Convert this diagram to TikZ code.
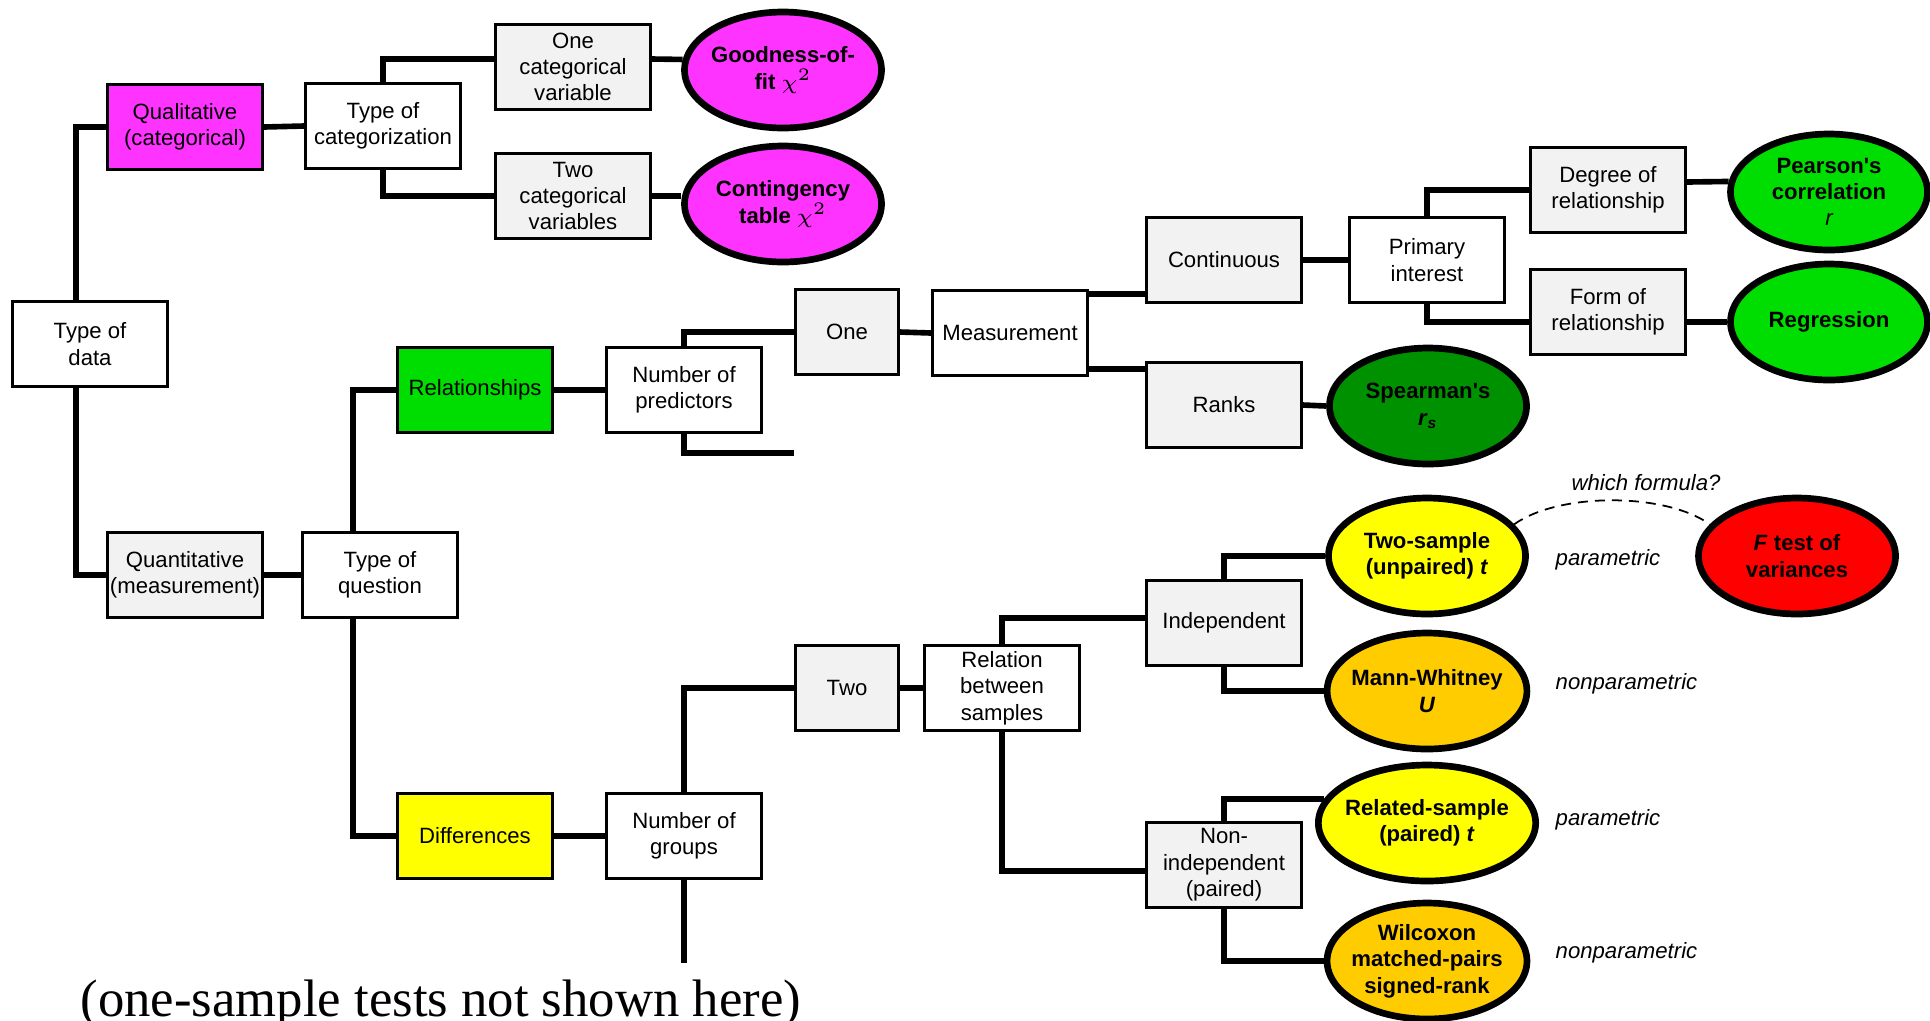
\documentclass[tikz,border=0pt]{standalone}
\usepackage{fontspec}
\setmainfont{Liberation Sans}
\newfontfamily\notefont{Liberation Serif}
\usepackage{tikz}
\usetikzlibrary{shapes.geometric}
\definecolor{qualpink}{RGB}{255,51,255}
\definecolor{relgreen}{RGB}{0,221,0}
\definecolor{rankgreen}{RGB}{0,145,0}
\definecolor{parayellow}{RGB}{255,255,0}
\definecolor{nporange}{RGB}{255,204,0}
\definecolor{varred}{RGB}{255,0,0}
\definecolor{boxgrey}{RGB}{242,242,242}
\newcommand{\qfont}{\fontsize{6.3}{7.5}\selectfont}
\newcommand{\chisq}{$\chi^{\scriptscriptstyle 2}$}
\tikzset{
  qbox/.style={draw=black,line width=0.75pt,fill=white,minimum width=15.5mm,minimum height=8.5mm,
    inner xsep=0.2mm,inner ysep=0pt,align=center,font=\qfont},
  gbox/.style={qbox,fill=boxgrey},
  testell/.style={ellipse,draw=black,line width=1.9pt,minimum width=19.7mm,minimum height=11.6mm,
    inner xsep=-0.5mm,inner ysep=0pt,align=center,font=\qfont\bfseries},
  link/.style={line width=1.6pt},
  hint/.style={line width=0.5pt,dash pattern=on 1mm off 0.7mm},
  note/.style={inner sep=0pt,font=\qfont\itshape},
}

\begin{document}
\begin{tikzpicture}[x=0.1mm,y=-0.1mm]
  \path[use as bounding box,fill=white] (0,0) rectangle (1930,1020);
  % qualitative side
  \node[qbox] (tdata) at (90,344) {Type of\\data};
  \node[qbox,fill=qualpink] (qual) at (185,127) {Qualitative\\(categorical)};
  \node[qbox] (tcat) at (383,126) {Type of\\categorization};
  \node[gbox] (onecat) at (573,67) {One\\categorical\\variable};
  \node[gbox] (twocat) at (573,196) {Two\\categorical\\variables};
  \node[testell,fill=qualpink] (gof) at (783,70) {Goodness-of-\\fit \chisq};
  \node[testell,fill=qualpink] (contab) at (783,204) {Contingency\\table \chisq};
  % quantitative side
  \node[gbox] (quant) at (185,575) {Quantitative\\(measurement)};
  \node[qbox] (tques) at (380,575) {Type of\\question};
  \node[qbox,fill=relgreen] (rel) at (475,390) {Relationships};
  \node[qbox] (npred) at (684,390) {Number of\\predictors};
  \node[gbox,minimum width=10.3mm] (one) at (847,332) {One};
  \node[qbox] (meas) at (1010,333) {Measurement};
  \node[gbox] (contin) at (1224,260) {Continuous};
  \node[gbox] (ranks) at (1224,405) {Ranks};
  \node[qbox] (primary) at (1427,260) {Primary\\interest};
  \node[gbox] (degree) at (1608,190) {Degree of\\relationship};
  \node[gbox] (form) at (1608,312) {Form of\\relationship};
  \node[testell,fill=relgreen] (pearson) at (1829,192)
    {Pearson\textquotesingle s\\correlation\\{\mdseries\itshape r}};
  \node[testell,fill=relgreen] (regr) at (1829,322) {Regression};
  \node[testell,fill=rankgreen] (spear) at (1428,406)
    {Spearman\textquotesingle s\\\textit{r}\textsubscript{\textit{s}}};
  \node[qbox,fill=parayellow] (diff) at (475,836) {Differences};
  \node[qbox] (ngroups) at (684,836) {Number of\\groups};
  \node[gbox,minimum width=10.3mm] (two) at (847,688) {Two};
  \node[qbox] (relsamp) at (1002,688) {Relation\\between\\samples};
  \node[gbox] (indep) at (1224,623) {Independent};
  \node[gbox] (nonind) at (1224,865) {Non-\\independent\\(paired)};
  \node[testell,fill=parayellow] (twos) at (1427,556) {Two-sample\\(unpaired) \textit{t}};
  \node[testell,fill=nporange] (mannw) at (1427,691) {Mann-Whitney\\\textit{U}};
  \node[testell,fill=parayellow] (relsam) at (1427,823) {Related-sample\\(paired) \textit{t}};
  \node[testell,fill=nporange] (wilc) at (1427,961) {Wilcoxon\\matched-pairs\\signed-rank};
  \node[testell,fill=varred] (ftest) at (1797,556) {\textit{F} test of\\variances};
  % side notes
  \node[note] (which) at (1646,483) {which formula?};
  \node[note,anchor=west] (par1) at (1555,560) {parametric};
  \node[note,anchor=west] (npar1) at (1555,684) {nonparametric};
  \node[note,anchor=west] (par2) at (1555,820) {parametric};
  \node[note,anchor=west] (npar2) at (1555,953) {nonparametric};
  \node[anchor=base west,inner sep=0pt,font=\notefont\fontsize{15}{18}\selectfont] (onesample)
    at (80,1016) {(one-sample tests not shown here)};
  \coordinate (npredstub) at (794,453);
  \coordinate (ngroupstub) at (684,963);
  % connectors
  \draw[link] ([xshift=-1.4mm]tdata.north) |- (qual.west);
  \draw[link] ([xshift=-1.4mm]tdata.south) |- (quant.west);
  \draw[link] (qual.east) -- (tcat.west);
  \draw[link] (tcat.north) |- ([yshift=0.8mm]onecat.west);
  \draw[link] (tcat.south) |- (twocat.west);
  \draw[link] ([yshift=0.8mm]onecat.east) -- (gof.174);
  \draw[link] (twocat.east) -- (twocat.east -| contab.west);
  \draw[link] (quant.east) -- (tques.west);
  \draw[link] ([xshift=-2.7mm]tques.north) |- (rel.west);
  \draw[link] ([xshift=-2.7mm]tques.south) |- (diff.west);
  \draw[link] (rel.east) -- (npred.west);
  \draw[link] (npred.north) |- (one.west);
  \draw[link] (npred.south) |- (npredstub);
  \draw[link] (one.east) -- (meas.west);
  \draw[link] ([yshift=-0.5mm]meas.north east) -- ([yshift=-0.5mm]meas.north east -| contin.west);
  \draw[link] ([yshift=0.8mm]meas.south east) -- ([yshift=0.8mm]meas.south east -| ranks.west);
  \draw[link] (contin.east) -- (primary.west);
  \draw[link] (primary.north) |- (degree.west);
  \draw[link] (primary.south) |- ([yshift=-1mm]form.west);
  \draw[link] ([yshift=0.8mm]degree.east) -- (pearson.174);
  \draw[link] ([yshift=-1mm]form.east) -- ([yshift=-1mm]form.east -| regr.west);
  \draw[link] (ranks.east) -- (spear.west);
  \draw[link] (diff.east) -- (ngroups.west);
  \draw[link] (ngroups.north) |- (two.west);
  \draw[link] (ngroups.south) -- (ngroupstub);
  \draw[link] (two.east) -- (relsamp.west);
  \draw[link] (relsamp.north) |- ([yshift=0.5mm]indep.west);
  \draw[link] (relsamp.south) |- ([yshift=-0.6mm]nonind.west);
  \draw[link] (indep.north) |- (twos.west);
  \draw[link] (indep.south) |- (mannw.west);
  \draw[link] (nonind.north) |- (relsam.167);
  \draw[link] (nonind.south) |- (wilc.west);
  \draw[hint] (twos.20) .. controls +(45,-32) and +(-45,-32) .. (ftest.160);
\end{tikzpicture}
\end{document}
